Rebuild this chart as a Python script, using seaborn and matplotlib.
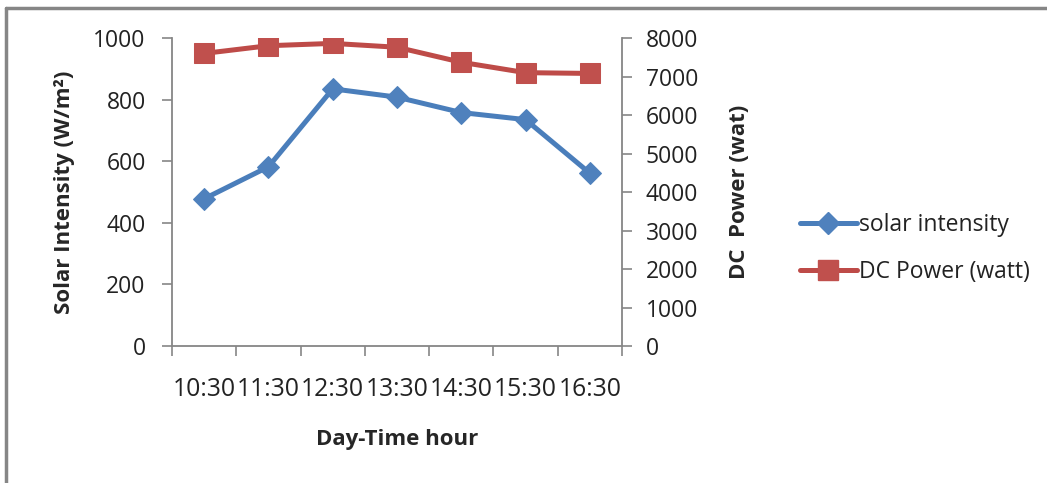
import numpy as np
import matplotlib
matplotlib.use("Agg")
import matplotlib.pyplot as plt
from matplotlib.lines import Line2D
import seaborn as sns

hours = ["10:30", "11:30", "12:30", "13:30", "14:30", "15:30", "16:30"]
solar_intensity = [478, 582, 835, 808, 758, 735, 561]
dc_power = [7600, 7800, 7860, 7760, 7370, 7100, 7080]

sns.set_style("white")
plt.rcParams["font.family"] = ["Open Sans", "DejaVu Sans"]

blue = "#4A7EBB"
red = "#BE4B48"
grey = "#868686"

fig = plt.figure(figsize=(10.47, 4.83), dpi=100)
ax = fig.add_axes([0.1643, 0.2836, 0.4298, 0.6377])
ax2 = ax.twinx()

x = np.arange(len(hours))
sns.lineplot(x=x, y=solar_intensity, ax=ax, color=blue, linewidth=3.6,
             marker="D", markersize=11, markeredgecolor="#4F81BD",
             markerfacecolor="#4F81BD", legend=False)
sns.lineplot(x=x, y=dc_power, ax=ax2, color=red, linewidth=3.6,
             marker="s", markersize=14, markeredgecolor="#C0504D",
             markerfacecolor="#C0504D", legend=False)

ax.set_xlim(-0.5, len(hours) - 0.5)
ax.set_ylim(0, 1000)
ax2.set_ylim(0, 8000)
ax.set_yticks(range(0, 1001, 200))
ax2.set_yticks(range(0, 8001, 1000))

# category labels at centres, tick marks at the boundaries (excel style)
ax.set_xticks(x)
ax.set_xticklabels(hours)
ax.set_xticks(np.arange(-0.5, len(hours)), minor=True)
ax.tick_params(axis="x", which="major", length=0, pad=22, labelsize=17.8, colors="#222222")
ax.tick_params(axis="x", which="minor", length=7, width=1.2, color=grey, direction="out", bottom=True)
ax.tick_params(axis="y", length=7, width=1.2, color=grey, direction="out", left=True,
               pad=12, labelsize=16.5, labelcolor="#222222")
ax2.tick_params(axis="y", length=7, width=1.2, color=grey, direction="out", right=True,
                pad=10, labelsize=16.5, labelcolor="#222222")

for a in (ax, ax2):
    for side, sp in a.spines.items():
        sp.set_color(grey)
        sp.set_linewidth(1.3)
    a.spines["top"].set_visible(False)
ax2.spines["left"].set_visible(False)
ax2.spines["bottom"].set_visible(False)
ax.spines["right"].set_visible(False)

ax.set_xlabel("Day-Time hour", fontsize=16, fontweight="bold", labelpad=20)
ax.set_ylabel("Solar Intensity (W/m²)", fontsize=16, fontweight="bold", labelpad=13)
ax2.set_ylabel("DC  Power (wat)", fontsize=16, fontweight="bold", labelpad=22)

handles = [
    Line2D([], [], color=blue, linewidth=3.6, marker="D", markersize=11,
           markerfacecolor="#4F81BD", markeredgecolor="#4F81BD"),
    Line2D([], [], color=red, linewidth=3.6, marker="s", markersize=14,
           markerfacecolor="#C0504D", markeredgecolor="#C0504D"),
]
fig.legend(handles, ["solar intensity", "DC Power (watt)"], loc="center left",
           bbox_to_anchor=(0.744, 0.486), frameon=False, fontsize=16.5,
           handlelength=2.5, handletextpad=0.1, labelspacing=1.0,
           labelcolor="#222222")

# chart border (only top and left show in the crop)
fig.add_artist(Line2D([0.006, 0.006], [0, 0.984], color=grey, linewidth=2.5, transform=fig.transFigure))
fig.add_artist(Line2D([0.006, 1.0], [0.984, 0.984], color=grey, linewidth=2.5, transform=fig.transFigure))

fig.savefig("out.png", dpi=100)
